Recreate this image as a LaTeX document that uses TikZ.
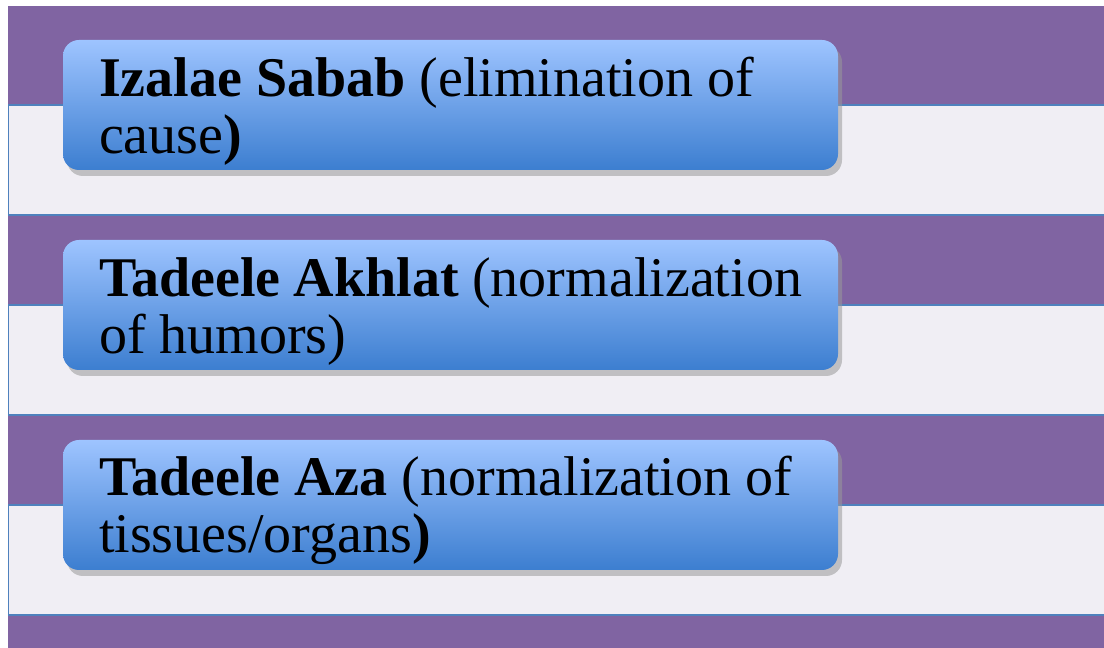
\documentclass[tikz,border=0pt]{standalone}
\usepackage{fontspec}
\setmainfont{Liberation Serif}
\usepackage{xcolor}
\definecolor{slidePurple}{HTML}{8064A2}
\definecolor{bandFill}{HTML}{F0EEF4}
\definecolor{bandLine}{HTML}{4F81BD}
\definecolor{boxTop}{HTML}{9EC4FF}
\definecolor{boxBot}{HTML}{3C7ED0}
\usepackage{tikz}
\usetikzlibrary{positioning, shadows}
\newcommand{\toppad}{\rule{0pt}{51pt}}

\begin{document}
\begin{tikzpicture}[
    x=1pt, y=1pt,
    band/.style={rectangle, draw=bandLine, line width=1.4pt, fill=bandFill,
                 minimum width=1110pt, minimum height=110pt, anchor=west, inner sep=0pt},
    stepbox/.style={rectangle, rounded corners=16pt, top color=boxTop, bottom color=boxBot,
                    draw=none, minimum width=775pt, minimum height=130pt,
                    text width=703pt, align=flush left, inner sep=0pt,
                    font=\fontsize{56}{57}\selectfont,
                    drop shadow={shadow xshift=4pt, shadow yshift=-6pt, fill=black!40, opacity=0.55}}
]
    \useasboundingbox (0,0) rectangle (1104,648);
    \fill[white] (0,0) rectangle (1104,648);
    \fill[slidePurple] (8,0) rectangle (1110,642);

    \node[band] (band1) at (8,488) {};
    \node[band] (band2) at (8,288) {};
    \node[band] (band3) at (8,88)  {};

    \node[stepbox] (sabab) at (450.5,543) {\toppad\textbf{Izalae Sabab} (elimination of cause\textbf{)}};
    \node[stepbox] (akhlat) at (450.5,343) {\toppad\textbf{Tadeele Akhlat} (normalization of humors)};
    \node[stepbox] (aza) at (450.5,143) {\toppad\textbf{Tadeele Aza} (normalization of tissues/organs\textbf{)}};
\end{tikzpicture}
\end{document}
